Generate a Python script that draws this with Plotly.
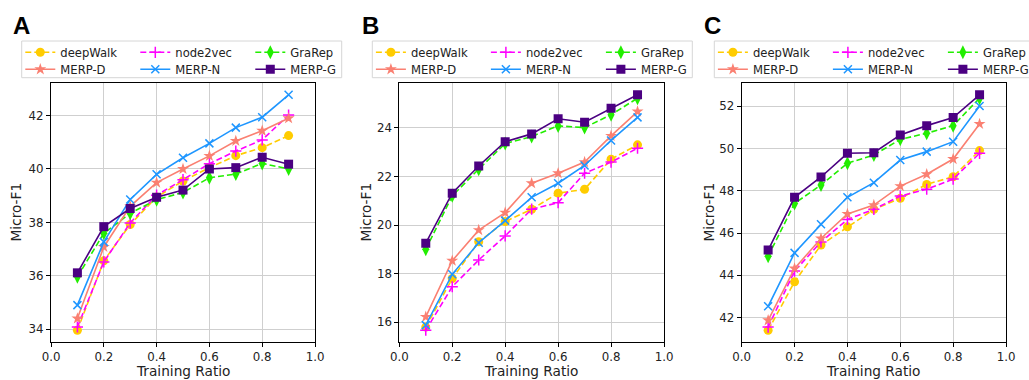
import plotly.graph_objects as go

W, H = 1029, 380

ratios = [0.1, 0.2, 0.3, 0.4, 0.5, 0.6, 0.7, 0.8, 0.9]
method_names = ["deepWalk", "node2vec", "GraRep", "MERP-D", "MERP-N", "MERP-G"]
panel_labels = ["A", "B", "C"]
x_ticks = [0.0, 0.2, 0.4, 0.6, 0.8, 1.0]
x_title = "Training Ratio"
y_title = "Micro-F1"

# Panel A
deepwalk_a = [33.96, 36.56, 37.92, 38.95, 39.55, 40.05, 40.50, 40.80, 41.25]
node2vec_a = [34.08, 36.52, 37.98, 39.02, 39.60, 40.20, 40.67, 41.09, 42.02]
grarep_a = [35.96, 37.59, 38.34, 38.85, 39.12, 39.67, 39.81, 40.21, 40.00]
merpd_a = [34.40, 37.08, 38.60, 39.49, 40.00, 40.49, 41.05, 41.43, 41.90]
merpn_a = [34.90, 37.27, 38.86, 39.80, 40.42, 40.96, 41.55, 41.94, 42.78]
merpg_a = [36.11, 37.84, 38.52, 38.94, 39.21, 40.00, 40.05, 40.44, 40.18]

# Panel B
deepwalk_b = [15.80, 17.80, 19.31, 20.14, 20.65, 21.31, 21.47, 22.71, 23.30]
node2vec_b = [15.67, 17.46, 18.56, 19.55, 20.65, 20.92, 22.13, 22.59, 23.16]
grarep_b = [19.00, 21.20, 22.30, 23.35, 23.64, 24.08, 24.01, 24.54, 25.22]
merpd_b = [16.22, 18.53, 19.79, 20.51, 21.72, 22.13, 22.59, 23.67, 24.67]
merpn_b = [15.88, 17.97, 19.27, 20.18, 21.14, 21.72, 22.45, 23.48, 24.43]
merpg_b = [19.25, 21.31, 22.43, 23.43, 23.75, 24.37, 24.23, 24.81, 25.36]

# Panel C
deepwalk_c = [41.40, 43.69, 45.43, 46.29, 47.12, 47.64, 48.30, 48.66, 49.90]
node2vec_c = [41.55, 44.20, 45.58, 46.64, 47.12, 47.75, 48.07, 48.55, 49.77]
grarep_c = [44.90, 47.40, 48.27, 49.30, 49.69, 50.43, 50.72, 51.08, 52.38]
merpd_c = [41.87, 44.32, 45.74, 46.90, 47.32, 48.22, 48.78, 49.50, 51.16]
merpn_c = [42.53, 45.06, 46.41, 47.69, 48.38, 49.45, 49.85, 50.32, 52.01]
merpg_c = [45.19, 47.69, 48.65, 49.77, 49.80, 50.64, 51.08, 51.46, 52.54]

panels = [
    [deepwalk_a, node2vec_a, grarep_a, merpd_a, merpn_a, merpg_a],
    [deepwalk_b, node2vec_b, grarep_b, merpd_b, merpn_b, merpg_b],
    [deepwalk_c, node2vec_c, grarep_c, merpd_c, merpn_c, merpg_c],
]

styles = [
    dict(color="#FFCC00", dash="6px,3px", symbol="circle", size=9, mline=0),
    dict(color="#FF00FF", dash="6px,3px", symbol="cross-thin", size=8, mline=1.5),
    dict(color="#22EE00", dash="6px,3px", symbol="diamond-tall", size=10, mline=0),
    dict(color="#FA8072", dash="solid", symbol="star", size=9, mline=0),
    dict(color="#1E96FF", dash="solid", symbol="x-thin", size=8, mline=1.5),
    dict(color="#4B0082", dash="solid", symbol="square", size=9, mline=0),
]
legend_row = [0, 0, 0, 1, 1, 1]

# pixel geometry of each panel
px_left = [51.0, 399.3, 741.7]
px_right = [315.0, 664.0, 1006.0]
px_top, px_bottom = 83.0, 342.0
legend_left = [21.7, 372.3, 714.3]
legend_top, legend_bottom = 41.0, 77.7
legend_w = 320.0
row_centers = [52.3, 69.3]
letter_x = [11.0, 360.0, 702.0]
ytitle_x = [15.0, 365.0, 708.0]
FONT = "DejaVu Sans"

fig = go.Figure()
layout_axes = {}
legends = {}
shapes = []
annotations = []

for p, series in enumerate(panels):
    xa = "x" if p == 0 else f"x{p+1}"
    ya = "y" if p == 0 else f"y{p+1}"
    for m, vals in enumerate(series):
        st = styles[m]
        lg_idx = p * 2 + legend_row[m] + 1
        lg_name = "legend" if lg_idx == 1 else f"legend{lg_idx}"
        fig.add_trace(go.Scatter(
            x=ratios, y=vals, mode="lines+markers", name=method_names[m],
            xaxis=xa, yaxis=ya, legend=lg_name,
            line=dict(color=st["color"], width=1.6, dash=st["dash"]),
            marker=dict(symbol=st["symbol"], size=st["size"], color=st["color"],
                        line=dict(color=st["color"], width=st["mline"])),
        ))
    allv = [v for s in series for v in s]
    lo, hi = min(allv), max(allv)
    pad = (hi - lo) * 0.05
    xkey = "xaxis" if p == 0 else f"xaxis{p+1}"
    ykey = "yaxis" if p == 0 else f"yaxis{p+1}"
    layout_axes[xkey] = dict(
        domain=[px_left[p] / W, px_right[p] / W], anchor=ya, range=[0, 1],
        tickvals=x_ticks, ticktext=[f"{t:.1f}" for t in x_ticks],
        showgrid=True, gridcolor="#cfcfcf", gridwidth=1,
        showline=True, linecolor="black", linewidth=1, mirror=True,
        ticks="outside", ticklen=4, tickcolor="black",
        tickfont=dict(family=FONT, size=11.8, color="#222"),
        automargin=False, zeroline=False,
    )
    layout_axes[ykey] = dict(
        domain=[1 - px_bottom / H, 1 - px_top / H], anchor=xa, range=[lo - pad, hi + pad],
        dtick=2, tick0=0,
        showgrid=True, gridcolor="#cfcfcf", gridwidth=1,
        showline=True, linecolor="black", linewidth=1, mirror=True,
        ticks="outside", ticklen=4, tickcolor="black",
        tickfont=dict(family=FONT, size=11.8, color="#222"),
        automargin=False, zeroline=False,
    )
    # legend frame
    shapes.append(dict(
        type="rect", xref="paper", yref="paper",
        x0=legend_left[p] / W, x1=(legend_left[p] + legend_w) / W,
        y0=1 - legend_bottom / H, y1=1 - legend_top / H,
        line=dict(color="#d6d6d6", width=1), fillcolor="white", layer="below",
    ))
    for r in range(2):
        lg_idx = p * 2 + r + 1
        lg_name = "legend" if lg_idx == 1 else f"legend{lg_idx}"
        legends[lg_name] = dict(
            xref="container", yref="container",
            x=(legend_left[p] - 1.4) / W, xanchor="left",
            y=1 - (row_centers[r] - 14.5) / H, yanchor="top",
            orientation="h", entrywidth=70, entrywidthmode="pixels",
            bgcolor="rgba(0,0,0,0)", borderwidth=0,
            font=dict(family=FONT, size=11.6, color="#222"),
            tracegroupgap=0, itemwidth=30,
        )
    annotations.append(dict(
        text=f"<b>{panel_labels[p]}</b>", xref="paper", yref="paper",
        x=letter_x[p] / W, y=1 - 10 / H, xanchor="left", yanchor="top",
        showarrow=False, font=dict(family="Liberation Sans", size=24, color="black"),
    ))
    annotations.append(dict(
        text=x_title, xref="paper", yref="paper",
        x=(px_left[p] + px_right[p]) / 2 / W, y=1 - 371 / H,
        xanchor="center", yanchor="middle", showarrow=False,
        font=dict(family=FONT, size=13.7, color="#222"),
    ))
    annotations.append(dict(
        text=y_title, xref="paper", yref="paper", textangle=-90,
        x=ytitle_x[p] / W, y=1 - (px_top + px_bottom) / 2 / H,
        xanchor="center", yanchor="middle", showarrow=False,
        font=dict(family=FONT, size=13.7, color="#222"),
    ))

fig.update_layout(
    width=W, height=H, margin=dict(l=0, r=0, t=0, b=0, autoexpand=False),
    paper_bgcolor="white", plot_bgcolor="white",
    shapes=shapes, annotations=annotations, showlegend=True,
    **layout_axes, **legends,
)

fig.write_html(
    "out.html",
    config={"displayModeBar": False},
    post_script="document.body.style.margin='0';document.body.style.overflow='hidden';",
)
